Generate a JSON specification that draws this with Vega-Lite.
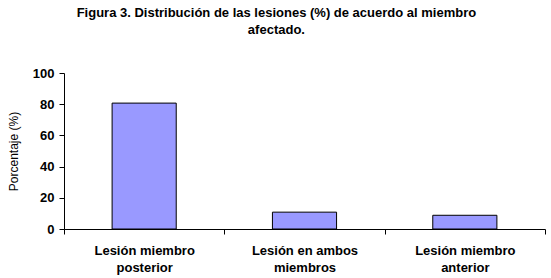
{
  "$schema": "https://vega.github.io/schema/vega-lite/v6.json",
  "width": 481,
  "height": 156,
  "autosize": {"type": "none"},
  "padding": {"left": 64, "top": 73, "right": 6, "bottom": 49},
  "background": "white",
  "title": {
    "text": ["Figura 3. Distribución de las lesiones (%) de acuerdo al miembro", "afectado."],
    "font": "Liberation Sans",
    "fontSize": 13,
    "fontWeight": "bold",
    "color": "black",
    "anchor": "middle",
    "frame": "bounds",
    "lineHeight": 17,
    "offset": 30
  },
  "data": {
    "values": [
      {"categoria": "Lesión miembro posterior", "porcentaje": 80.7},
      {"categoria": "Lesión en ambos miembros", "porcentaje": 10.8},
      {"categoria": "Lesión miembro anterior", "porcentaje": 8.8}
    ]
  },
  "mark": {"type": "bar", "color": "#9999FF", "stroke": "black", "strokeWidth": 1, "width": {"band": 0.4}},
  "encoding": {
    "x": {
      "field": "categoria",
      "type": "nominal",
      "sort": null,
      "scale": {"paddingInner": 0, "paddingOuter": 0},
      "axis": {
        "title": null,
        "labelAngle": 0,
        "labelFont": "Liberation Sans",
        "labelFontSize": 13,
        "labelFontWeight": "bold",
        "labelColor": "black",
        "labelLineHeight": 17,
        "labelPadding": 10,
        "labelExpr": "datum.value == 'Lesión miembro posterior' ? ['Lesión miembro', 'posterior'] : datum.value == 'Lesión en ambos miembros' ? ['Lesión en ambos', 'miembros'] : datum.value == 'Lesión miembro anterior' ? ['Lesión miembro', 'anterior'] : ''",
        "tickBand": "extent",
        "tickSize": 5,
        "tickColor": "black",
        "domainColor": "black",
        "grid": false
      }
    },
    "y": {
      "field": "porcentaje",
      "type": "quantitative",
      "scale": {"domain": [0, 100]},
      "axis": {
        "title": "Porcentaje (%)",
        "titleFont": "Liberation Sans",
        "titleFontSize": 12,
        "titleFontWeight": "normal",
        "titleColor": "black",
        "titlePadding": 12,
        "values": [0, 20, 40, 60, 80, 100],
        "labelFont": "Liberation Sans",
        "labelFontSize": 13,
        "labelFontWeight": "bold",
        "labelColor": "black",
        "labelPadding": 5,
        "tickSize": 5,
        "tickColor": "black",
        "domainColor": "black",
        "grid": false
      }
    }
  },
  "config": {"view": {"stroke": null}}
}
